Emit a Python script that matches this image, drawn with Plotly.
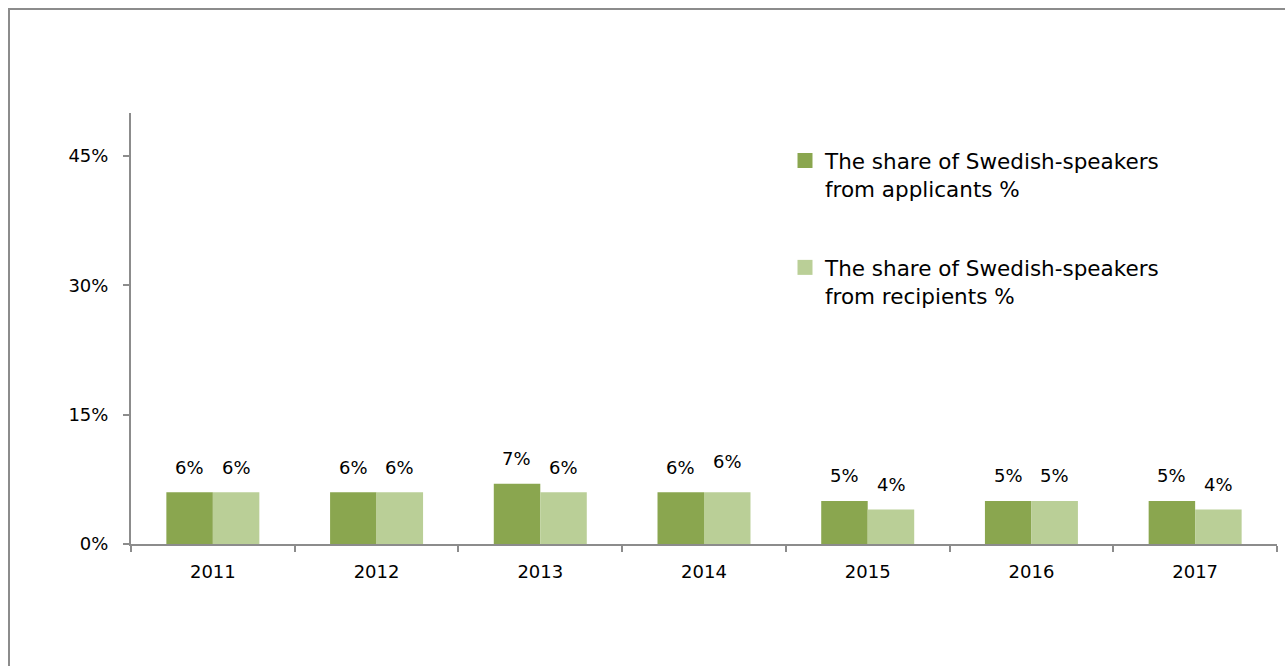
import plotly.graph_objects as go

# Share of Swedish-speakers, by year (per cent)
years = ["2011", "2012", "2013", "2014", "2015", "2016", "2017"]
applicants_pct = [6, 6, 7, 6, 5, 5, 5]
recipients_pct = [6, 6, 6, 6, 4, 5, 4]
series_names = [
    "The share of Swedish-speakers<br>from applicants %",
    "The share of Swedish-speakers<br>from recipients %",
]
y_ticks = [0, 15, 30, 45]

DARK = "#8AA64F"
LIGHT = "#BACF97"
AXIS = "#8C8C8C"
FONT = "DejaVu Sans, sans-serif"
FS = 18
LEGEND_FS = 21.5

W, H = 1285, 666
M_L, M_R, M_T, M_B = 131, 8, 113, 122
PW, PH = W - M_L - M_R, H - M_T - M_B

pos = list(range(len(years)))


def px_to_paper(px, py):
    return (px - M_L) / PW, (H - M_B - py) / PH


fig = go.Figure()

colors = [DARK, LIGHT]
for i, (name, vals, col) in enumerate(zip(series_names, [applicants_pct, recipients_pct], colors)):
    fig.add_trace(go.Bar(
        x=pos, y=vals, name=name, showlegend=False,
        marker=dict(color=col, line=dict(width=0)),
        customdata=years,
        hovertemplate="%{customdata}: %{y}%<extra></extra>",
    ))
    # legend entry with a 15px square swatch
    fig.add_trace(go.Scatter(
        x=[None], y=[None], mode="markers", name=name, legendgroup=f"g{i}",
        marker=dict(symbol="square", size=15, color=col, line=dict(width=0)),
        hoverinfo="skip",
    ))

# value labels above each bar (one label lifted slightly, as laid out in the report)
bar_half = 23.3
label_lift = {(1, "2014"): 6}
for s, (vals, dx) in enumerate([(applicants_pct, -bar_half), (recipients_pct, bar_half)]):
    for p, yr, v in zip(pos, years, vals):
        fig.add_annotation(
            x=p, y=v, text=f"{v}%", showarrow=False, xshift=dx,
            yshift=25 + label_lift.get((s, yr), 0),
            yanchor="middle", font=dict(family=FONT, size=FS, color="#000"),
        )

# outer chart frame
x0, y0 = px_to_paper(9, 9)
x1, y1 = px_to_paper(W + 20, H + 20)
fig.add_shape(type="rect", xref="paper", yref="paper", x0=x0, y0=y0, x1=x1, y1=y1,
              line=dict(color=AXIS, width=2), fillcolor="rgba(0,0,0,0)", layer="below")

lx, ly = px_to_paper(785, 140)

fig.update_layout(
    width=W, height=H,
    margin=dict(l=M_L, r=M_R, t=M_T, b=M_B),
    paper_bgcolor="white", plot_bgcolor="white",
    barmode="group", bargap=0.432, bargroupgap=0,
    font=dict(family=FONT, size=FS, color="#000"),
    legend=dict(x=lx, y=ly, xanchor="left", yanchor="top", valign="top",
                tracegroupgap=48, font=dict(family=FONT, size=LEGEND_FS, color="#000"),
                bgcolor="rgba(0,0,0,0)"),
    xaxis=dict(
        range=[-0.5, len(years) - 0.5],
        tickvals=pos, ticktext=years, ticks="", ticklabelstandoff=10,
        showline=True, linecolor=AXIS, linewidth=2,
        showgrid=False, zeroline=False,
        tickfont=dict(family=FONT, size=FS, color="#000"),
        minor=dict(tickvals=[p - 0.5 for p in pos] + [pos[-1] + 0.5],
                   ticks="outside", ticklen=6, tickcolor=AXIS, tickwidth=2,
                   showgrid=False),
    ),
    yaxis=dict(
        range=[0, 50], tickvals=y_ticks, ticktext=[f"{t}%" for t in y_ticks],
        showline=True, linecolor=AXIS, linewidth=2,
        ticks="outside", ticklen=6, tickcolor=AXIS, tickwidth=2, ticklabelstandoff=11,
        showgrid=False, zeroline=False,
        tickfont=dict(family=FONT, size=FS, color="#000"),
    ),
)

fig.write_html("out.html")
